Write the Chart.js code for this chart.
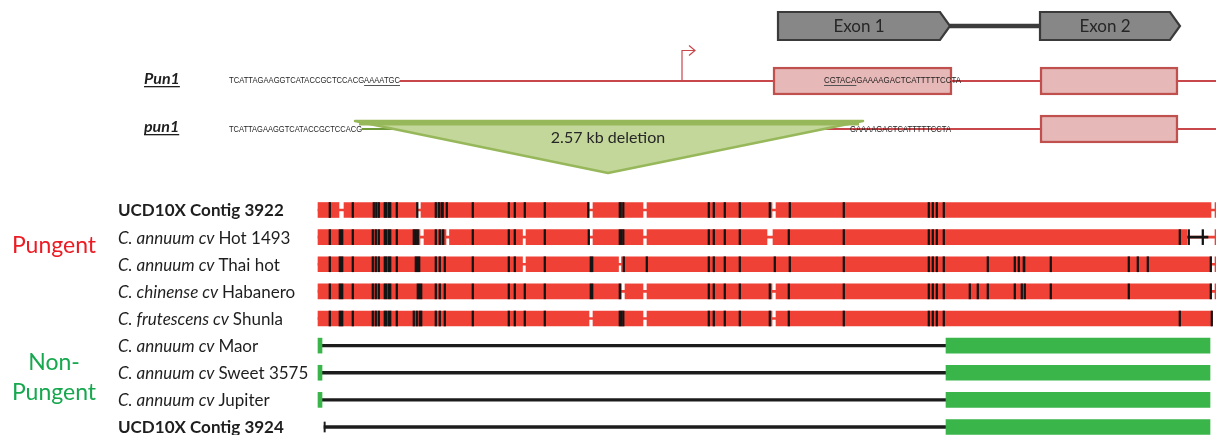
<!DOCTYPE html>
<html>
<head>
<meta charset="utf-8">
<script src="https://cdn.jsdelivr.net/npm/chart.js@4.4.1/dist/chart.umd.min.js"></script>
<style>
  html, body { margin: 0; padding: 0; background: #fff; }
  #wrap { width: 1216px; height: 435px; }
</style>
</head>
<body>
<div id="wrap"><canvas id="grafico" width="1216" height="435"></canvas></div>
<script>
// ---- rows of the alignment (top to bottom) ----
const rowLabels = [
  [['UCD10X Contig 3922', 'b']],
  [['C. annuum cv ', 'i'], ['Hot 1493', 'n']],
  [['C. annuum cv ', 'i'], ['Thai hot', 'n']],
  [['C. chinense cv ', 'i'], ['Habanero', 'n']],
  [['C. frutescens cv ', 'i'], ['Shunla', 'n']],
  [['C. annuum cv ', 'i'], ['Maor', 'n']],
  [['C. annuum cv ', 'i'], ['Sweet 3575', 'n']],
  [['C. annuum cv ', 'i'], ['Jupiter', 'n']],
  [['UCD10X Contig 3924', 'b']]
];
const groupLabels = [
  { lines: ['Pungent'], color: '#ec1c24', row: 1.3 },
  { lines: ['Non-', 'Pungent'], color: '#17a84f', row: 5.62 }
];

// pungent rows: alignment end, gaps and mismatch columns ([col, width] for wide ones)
const pungentEnd = [898, 898, 898, 898, 894];
const pungentGaps = [
  [[21, 26], [99.5, 103], [271, 275], [325, 329], [454, 458], [893, 897]],
  [[102, 106], [128, 131.5], [204.5, 208], [271, 275], [325, 329], [449, 455], [869, 897]],
  [[204.5, 208], [300.5, 303.5], [893.5, 897]],
  [[303, 307], [325, 329], [454, 458], [893.5, 897]],
  [[271, 275], [325, 329], [454, 458]]
];
const mismatches = [
  [11, 34, 55, 57.5, 60, [66, 3], [70, 3], 78, 98.5, 117, [120, 2], [123, 2.5], 128, 154, 190, 196, 206, 226, 269.5, [301, 2.5], 304.5, 390, 395, 406, 421, 451, 471, 525, 610, 614, 618, 625],
  [11, [21, 4], 34, 54, 57, 60, [66, 3], [70, 3], 78, 95, 97, 99, 117, 121, [124, 2], 154, 190, 196, 226, 270, [301, 3], 304.5, 390, 395, 406, 421, 470, 525, 610, 614, 618, 625, 861, 870, 884],
  [11, [21, 4], 34, 54, 57, 60, [66, 3], [70, 3], 78, [97, 5], 117, 121, 126, 154, 190, 196, 226, [272, 3], 305, 328, 390, 395, 406, 421, 456, 471, 525, 610, 614, 618, 625, 669, 696, 700, [705, 2], 732, 810, 819, 829, 892],
  [11, [21, 4], 34, 54, 57, 60, [66, 3], [70, 3], 78, [99, 5], 117, 121, 126, 154, 190, 196, 206, 226, [272, 3], [301, 2], 390, 395, 406, 421, 451, 470, 525, 610, 614, 618, 625, 651, 659, 669, 696, 703, 706, 732, 810, 892],
  [11, [21, 4], 34, 54, 57, 60, [66, 3], [70, 3], 78, 95, 98, [101, 3], 117, 121, 126, 154, 190, 196, 206, 226, [301, 3], 304.5, 390, 395, 406, 421, 451, 470, 525, 610, 614, 618, 625, 861, 893]
];
// black gap run at the end of Hot 1493
const hotGapRun = [870, 890];

// non-pungent rows (5..8): start block, deleted span, conserved block
const npStart = [[0, 4], [0, 4], [0, 4], null];
const npDeleted = [[4, 628], [4, 628], [4, 628], [6, 628]];
const npBlock = [[628, 892], [628, 892], [628, 892], [628, 892]];
const contigTick = [6, 7.3];

// ---- gene model (same column axis) ----
const exonModel = [
  { label: 'Exon 1', from: 460, to: 632 },
  { label: 'Exon 2', from: 722, to: 862 }
];
const intron = [632, 722];
const PunExons = [[455, 634], [722, 860]];
const punExons = [[722, 860]];
const PunLine = [82, 898];
const punGreenLine = [44, 95];
const punRedLine = [494, 898];
const promoterCol = [364, 377];
const deletion = { left: 37, right: 545, apex: 290, label: '2.57 kb deletion' };
const seqTexts = [
  { track: 'Pun1', text: 'TCATTAGAAGGTCATACCGCTCCACGAAAATGC', from: -89, to: 82, ul: [26, 33] },
  { track: 'Pun1', text: 'CGTACAGAAAAGACTCATTTTTCCTA', from: 506, to: 643, ul: [0, 6] },
  { track: 'pun1', text: 'TCATTAGAAGGTCATACCGCTCCACG', from: -89, to: 44, ul: null },
  { track: 'pun1', text: 'GAAAAGACTCATTTTTCCTA', from: 532, to: 633, ul: null }
];

// y positions (row units) of the upper tracks
const TRACK = { modelo: -6.783, Pun1: -4.756, pun1: -2.986, promoterTop: -5.88, delTop: -3.281, delApex: -1.364 };

const RED = '#ef4136', GREEN = '#39b54a', BLACK = '#141414';

// ---- build datasets ----
const camadas = [];
function camada(data, color, thickness, extra) {
  camadas.push(Object.assign({
    data, backgroundColor: color, barThickness: thickness, grouped: false,
    borderWidth: 0, clip: false
  }, extra || {}));
}

// red connector behind each pungent row
camada(pungentEnd.map((e, r) => ({ y: r, x: [0, e] })), RED, 2);
// red segments between gaps
const segs = [];
pungentGaps.forEach((gs, r) => {
  let start = 0;
  gs.forEach(g => { segs.push({ y: r, x: [start, g[0]] }); start = g[1]; });
  if (start < pungentEnd[r]) segs.push({ y: r, x: [start, pungentEnd[r]] });
});
camada(segs, RED, 15);
camada([{ y: 1, x: hotGapRun }], BLACK, 2);
const marks = [];
mismatches.forEach((ms, r) => ms.forEach(m => {
  const c = Array.isArray(m) ? m[0] : m, w = Array.isArray(m) ? m[1] : 1.6;
  marks.push({ y: r, x: [c, c + w] });
}));
camada(marks, BLACK, 15);

// non-pungent rows
camada(npDeleted.map((d, i) => ({ y: 5 + i, x: d })), '#1c1c1c', 2.6);
camada(npStart.map((d, i) => d ? { y: 5 + i, x: d } : null).filter(Boolean), GREEN, 15);
camada(npBlock.map((d, i) => ({ y: 5 + i, x: d })), GREEN, 15);
camada([{ y: 8, x: contigTick }], '#1c1c1c', 10);

// gene model connector and transcript lines
camada([{ y: TRACK.modelo, x: intron }], '#3c3c3c', 4);
camada([{ y: TRACK.Pun1, x: PunLine }, { y: TRACK.pun1, x: punRedLine }], '#c8474a', 1.3);
camada([{ y: TRACK.pun1, x: punGreenLine }], '#6f9a3a', 1.3);
camada(PunExons.map(e => ({ y: TRACK.Pun1, x: e })).concat(punExons.map(e => ({ y: TRACK.pun1, x: e }))),
  '#e6b8b7', 28, { borderColor: '#c0504d', borderWidth: 2.5, borderSkipped: false });

camadas.forEach((d, i) => { d.order = camadas.length - i; });

// ---- drawing of shapes and texts ----
function fonte(style, size) {
  const w = style === 'b' ? 'bold ' : '';
  const it = style === 'i' ? 'italic ' : '';
  return it + w + size + 'px Lato';
}

const desenhos = {
  id: 'desenhos',
  afterDatasetsDraw(chart) {
    const { ctx, scales: { x, y } } = chart;
    const px = v => x.getPixelForValue(v);
    const py = v => y.getPixelForValue(v);
    ctx.save();

    // exon arrows
    exonModel.forEach(e => {
      const yc = py(TRACK.modelo), h = 14, tip = 10;
      ctx.beginPath();
      ctx.moveTo(px(e.from), yc - h);
      ctx.lineTo(px(e.to) - tip, yc - h);
      ctx.lineTo(px(e.to), yc);
      ctx.lineTo(px(e.to) - tip, yc + h);
      ctx.lineTo(px(e.from), yc + h);
      ctx.closePath();
      ctx.fillStyle = '#878787';
      ctx.fill();
      ctx.lineWidth = 2.2;
      ctx.strokeStyle = '#3a3a3a';
      ctx.stroke();
      ctx.fillStyle = '#262626';
      ctx.font = '17px Lato';
      ctx.textAlign = 'center';
      ctx.textBaseline = 'middle';
      ctx.fillText(e.label, (px(e.from) + px(e.to) - tip) / 2, yc + 1);
    });

    // promoter arrow
    const yP = py(TRACK.Pun1), yT = py(TRACK.promoterTop);
    ctx.strokeStyle = '#c8474a';
    ctx.lineWidth = 1.2;
    ctx.beginPath();
    ctx.moveTo(px(promoterCol[0]), yP);
    ctx.lineTo(px(promoterCol[0]), yT);
    ctx.lineTo(px(promoterCol[1]), yT);
    ctx.moveTo(px(promoterCol[1]) - 6, yT - 5);
    ctx.lineTo(px(promoterCol[1]), yT);
    ctx.lineTo(px(promoterCol[1]) - 6, yT + 5);
    ctx.stroke();

    // deletion triangle
    const yTop = py(TRACK.delTop), yApex = py(TRACK.delApex);
    ctx.beginPath();
    ctx.moveTo(px(deletion.left), yTop);
    ctx.lineTo(px(deletion.right), yTop);
    ctx.lineTo(px(deletion.apex), yApex);
    ctx.closePath();
    ctx.fillStyle = '#c4d79b';
    ctx.fill();
    ctx.lineJoin = 'round';
    ctx.lineWidth = 2.5;
    ctx.strokeStyle = '#97b85a';
    ctx.stroke();
    ctx.lineWidth = 5;
    ctx.beginPath();
    ctx.moveTo(px(deletion.left) + 4, yTop + 2);
    ctx.lineTo(px(deletion.right) - 4, yTop + 2);
    ctx.stroke();
    ctx.fillStyle = '#262626';
    ctx.font = '16px Lato';
    ctx.textAlign = 'center';
    ctx.textBaseline = 'middle';
    ctx.fillText(deletion.label, px(deletion.apex), yTop + 17);

    // sequences
    ctx.textAlign = 'left';
    ctx.textBaseline = 'alphabetic';
    ctx.font = '9px "Liberation Sans"';
    seqTexts.forEach(s => {
      const x0 = px(s.from), wTot = px(s.to) - x0;
      const base = py(TRACK[s.track]) + 2.5;
      const natural = ctx.measureText(s.text).width;
      const k = wTot / natural;
      ctx.save();
      ctx.translate(x0, base);
      ctx.scale(k, 1);
      ctx.fillStyle = '#1e1e1e';
      ctx.fillText(s.text, 0, 0);
      if (s.ul) {
        const a = ctx.measureText(s.text.slice(0, s.ul[0])).width;
        const b = ctx.measureText(s.text.slice(0, s.ul[1])).width;
        ctx.fillStyle = '#555';
        ctx.fillRect(a, 1.5, b - a, 1);
      }
      ctx.restore();
    });

    // Pun1 / pun1 labels
    ['Pun1', 'pun1'].forEach(t => {
      const yb = py(TRACK[t]) + 3;
      ctx.font = 'italic bold 16px Lato';
      ctx.fillStyle = '#1e1e1e';
      ctx.textAlign = 'left';
      ctx.fillText(t, px(-174), yb);
      const w = ctx.measureText(t).width;
      ctx.fillRect(px(-174), yb + 2, w, 1.3);
    });

    // row labels
    ctx.textBaseline = 'middle';
    rowLabels.forEach((parts, r) => {
      let xx = px(-200);
      const yy = py(r) + 1;
      parts.forEach(([txt, st]) => {
        ctx.font = fonte(st, 17);
        ctx.fillStyle = '#1e1e1e';
        ctx.fillText(txt, xx, yy);
        xx += ctx.measureText(txt).width;
      });
    });

    // group labels
    ctx.textAlign = 'center';
    groupLabels.forEach(g => {
      ctx.font = '23px Lato';
      ctx.fillStyle = g.color;
      g.lines.forEach((ln, i) => ctx.fillText(ln, px(-264), py(g.row + i * 1.1)));
    });

    ctx.restore();
  }
};

new Chart(document.getElementById('grafico').getContext('2d'), {
  type: 'bar',
  data: { datasets: camadas },
  options: {
    indexAxis: 'y',
    responsive: false,
    animation: false,
    devicePixelRatio: 1,
    layout: { padding: 0 },
    plugins: { legend: { display: false }, tooltip: { enabled: false } },
    scales: {
      x: { type: 'linear', min: -318, max: 898, offset: false, display: false },
      y: { type: 'linear', min: -7.742, max: 8.295, reverse: true, offset: false, display: false }
    }
  },
  plugins: [desenhos]
});
</script>
</body>
</html>
